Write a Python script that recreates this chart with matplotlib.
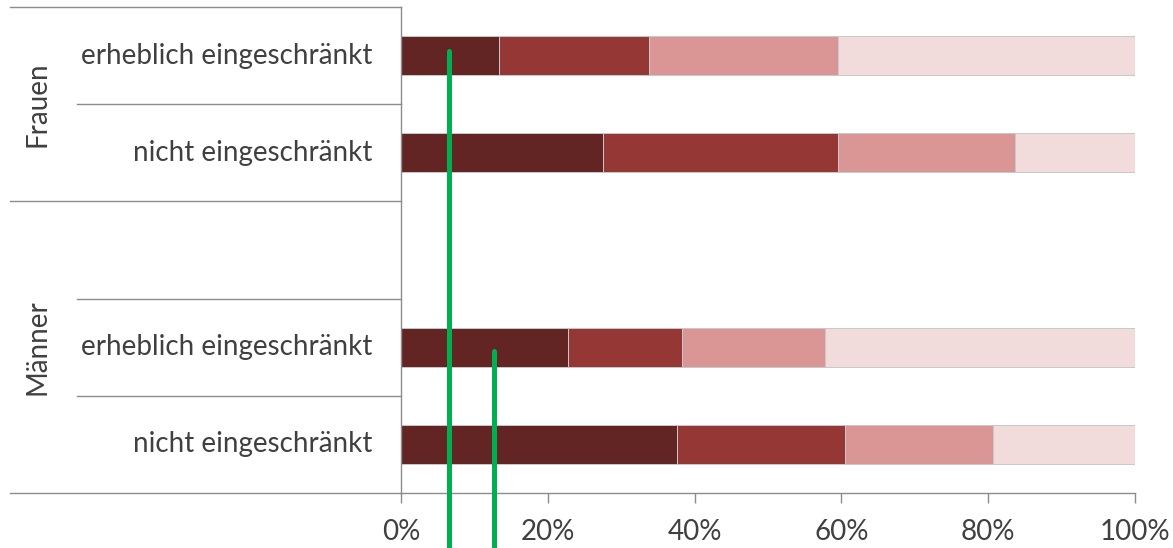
import matplotlib
matplotlib.use("Agg")
import matplotlib.pyplot as plt
import matplotlib.transforms as mtransforms
import numpy as np

# ---- data ----
groups = ["Frauen", "Männer"]
categories = ["erheblich eingeschränkt", "nicht eingeschränkt",
              "erheblich eingeschränkt", "nicht eingeschränkt"]
seg1 = [13.4, 27.5, 22.8, 37.6]
seg2 = [20.4, 32.1, 15.5, 22.9]
seg3 = [25.8, 24.1, 19.5, 20.2]
seg4 = [40.4, 16.3, 42.2, 19.3]
tick_values = [0, 20, 40, 60, 80, 100]
tick_labels = ["0%", "20%", "40%", "60%", "80%", "100%"]
marker_values = [6.6, 12.7]     # green reference lines
marker_rows = [0, 2]            # bar index where each line starts

colors = ["#632523", "#953735", "#D99694", "#F2DCDB"]
text_color = "#404040"
axis_color = "#8C8C8C"
green = "#00B050"

W, H = 1173, 548
fig = plt.figure(figsize=(W / 100, H / 100), dpi=100)
left_px, right_px, top_px, bottom_px = 401, 1135, 7, 493
ax = fig.add_axes([left_px / W, 1 - bottom_px / H,
                   (right_px - left_px) / W, (bottom_px - top_px) / H])

font = "Lato"
fs = 20

# slots: Frauen rows 0,1 ; gap 2 ; Männer rows 3,4
ypos = [0, 1, 3, 4]
segs = [seg1, seg2, seg3, seg4]
left = np.zeros(len(ypos))
for s, c in zip(segs, colors):
    ax.barh(ypos, s, left=left, height=0.4, color=c,
            edgecolor="#C8C8C8", linewidth=0.7, zorder=2)
    left += np.array(s)

ax.set_xlim(0, 100)
ax.set_ylim(4.5, -0.5)
ax.set_yticks([])
ax.set_xticks(tick_values)
ax.set_xticklabels(tick_labels, fontsize=fs, color=text_color, family=font)
ax.tick_params(axis="x", length=7, width=1, color=axis_color, pad=12)
for sp in ["top", "right"]:
    ax.spines[sp].set_visible(False)
for sp in ["left", "bottom"]:
    ax.spines[sp].set_color(axis_color)
    ax.spines[sp].set_linewidth(1)

# label-area lines (x in figure fraction, y in data)
tr = mtransforms.blended_transform_factory(fig.transFigure, ax.transData)
x_ax = left_px / W
x_outer = 10 / W
x_inner = 77 / W
for y, x0 in [(-0.5, x_outer), (0.5, x_inner), (1.5, x_outer),
              (2.5, x_inner), (3.5, x_inner), (4.5, x_outer)]:
    ax.plot([x0, x_ax], [y, y], transform=tr, color=axis_color,
            lw=1, clip_on=False, zorder=1)

# category labels
for y, lab in zip(ypos, categories):
    ax.text(372 / W, y, lab, transform=tr, ha="right", va="center",
            fontsize=fs, color=text_color, family=font)

# group labels
for lab, yc in zip(groups, [0.5, 3.0]):
    ax.text(37 / W, yc, lab, transform=tr, ha="center", va="center",
            rotation=90, fontsize=fs, color=text_color, family=font)

# green reference lines
for v, r, off in zip(marker_values, marker_rows, [-0.05, 0.04]):
    ax.plot([v, v], [ypos[r] + off, 5.1], color=green, lw=3.6,
            solid_capstyle="round", clip_on=False, zorder=5)

fig.savefig("out.png", dpi=100)
